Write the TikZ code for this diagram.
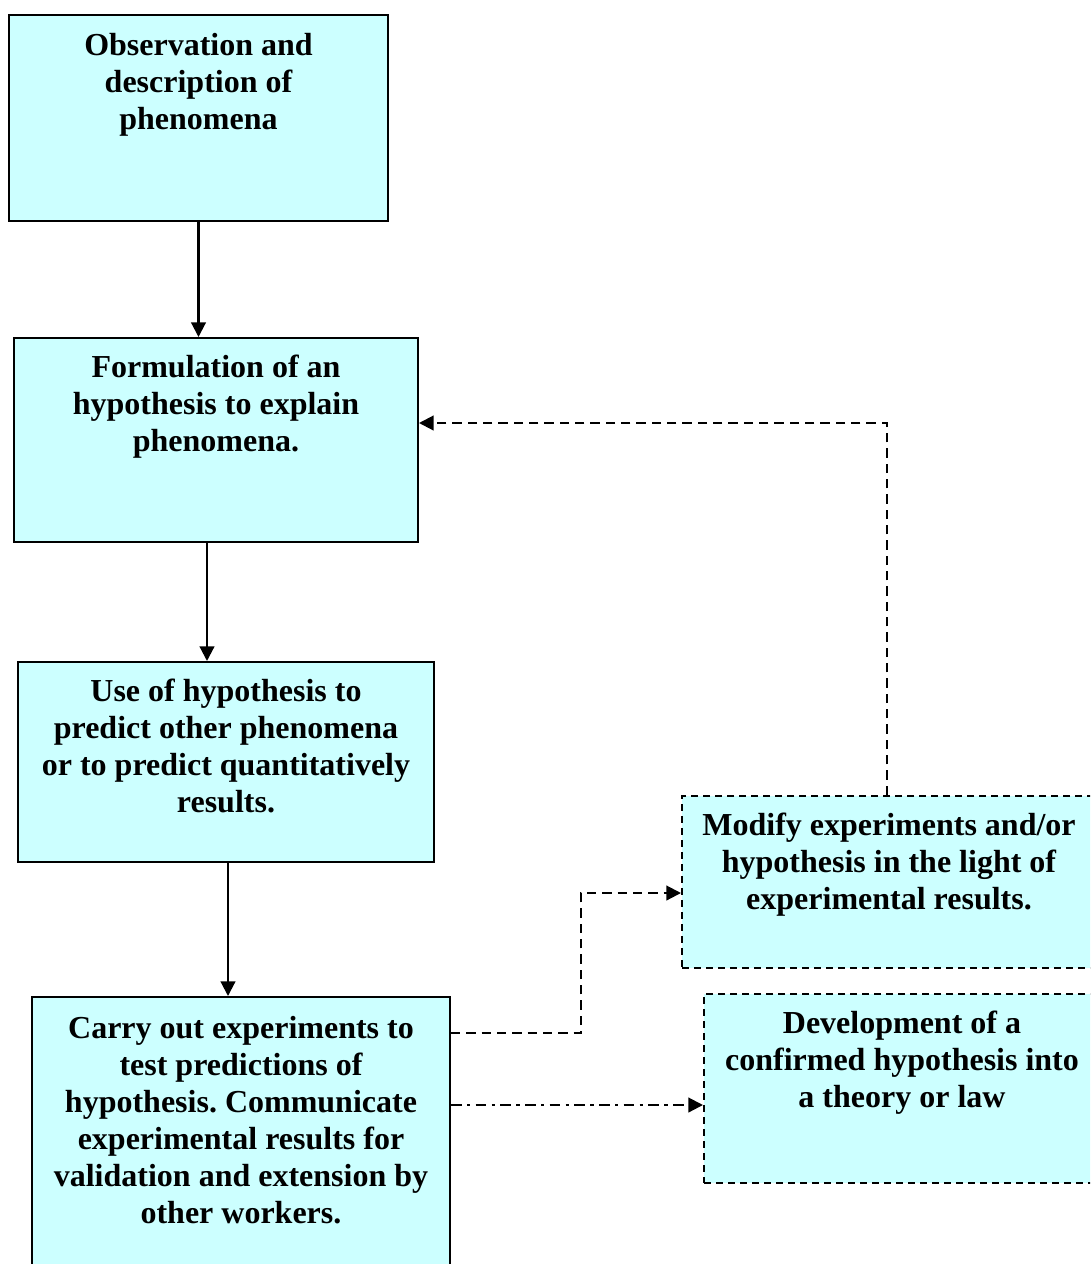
\documentclass[tikz,border=0pt]{standalone}
\usepackage{fontspec}
\setmainfont{Liberation Serif}
\usetikzlibrary{arrows.meta,calc}
\definecolor{boxfill}{HTML}{CCFFFF}
\frenchspacing
\begin{document}
\begin{tikzpicture}[x=0.75pt,y=-0.75pt,
  box/.style={draw=black, fill=boxfill, line width=1.5pt, inner sep=0pt, anchor=north west},
  dbox/.style={draw=black, fill=boxfill, line width=1.5pt, dash pattern=on 5.5pt off 3.5pt, inner sep=0pt, anchor=north west},
  txt/.style={inner sep=0pt, anchor=base, font=\fontsize{24}{27.75}\selectfont\bfseries},
  conn/.style={line width=1.6pt, -{Triangle[length=11pt,width=11pt]}},
  dconn/.style={conn, dash pattern=on 7pt off 4.5pt},
  ddconn/.style={conn, dash pattern=on 8pt off 4pt on 2.5pt off 4pt}
]
\useasboundingbox (0,0) rectangle (1090,1264);
\clip (0,0) rectangle (1090,1264);
\newcommand{\lines}[1]{\renewcommand{\arraystretch}{1}\setlength{\tabcolsep}{0pt}\begin{tabular}[t]{c}#1\end{tabular}}
% boxes
\node[box, minimum width=284.25pt, minimum height=154.5pt] (A) at (8,14) {};
\node[box, minimum width=303pt, minimum height=153pt] (B) at (13,337) {};
\node[box, minimum width=312pt, minimum height=150pt] (C) at (17,661) {};
\node[box, minimum width=313.5pt, minimum height=225pt] (D) at (31,996) {};
\node[dbox, minimum width=310.5pt, minimum height=129pt] (E) at (681,795) {};
\node[dbox, minimum width=297pt, minimum height=141.75pt] (F) at (703,993) {};
% texts
\node[txt] (At) at ($(A.north)+(0,41)$) {\lines{Observation and\\description of\\phenomena}};
\node[txt] (Bt) at ($(B.north)+(0,40)$) {\lines{Formulation of an\\hypothesis to explain\\phenomena.}};
\node[txt] (Ct) at ($(C.north)+(0,40)$) {\lines{Use of hypothesis to\\predict other phenomena\\or to predict quantitatively\\results.}};
\node[txt] (Dt) at ($(D.north)+(0,42)$) {\lines{Carry out experiments to\\test predictions of\\hypothesis. Communicate\\experimental results for\\validation and extension by\\other workers.}};
\node[txt] (Et) at ($(E.north)+(0,40)$) {\lines{Modify experiments and/or\\hypothesis in the light of\\experimental results.}};
\node[txt] (Ft) at ($(F.north)+(0,40)$) {\lines{Development of a\\confirmed hypothesis into\\a theory or law}};
% connectors
\draw[conn] (A.south) -- (A.south |- B.north);
\draw[conn] ([xshift=-6.75pt]B.south) -- ([xshift=-6.75pt]B.south |- C.north);
\draw[conn] ([xshift=1.5pt]C.south) -- ([xshift=1.5pt]C.south |- D.north);
\coordinate (eb) at (0,423);
\draw[dconn] ([xshift=-1.5pt]E.north) |- (B.east |- eb);
\coordinate (de) at (0,1033);
\coordinate (knee) at (581,893);
\draw[dconn] (D.east |- de) -| (knee) -- (E.west |- knee);
\coordinate (df) at (0,1105);
\draw[ddconn] (D.east |- df) -- (F.west |- df);
\end{tikzpicture}
\end{document}
